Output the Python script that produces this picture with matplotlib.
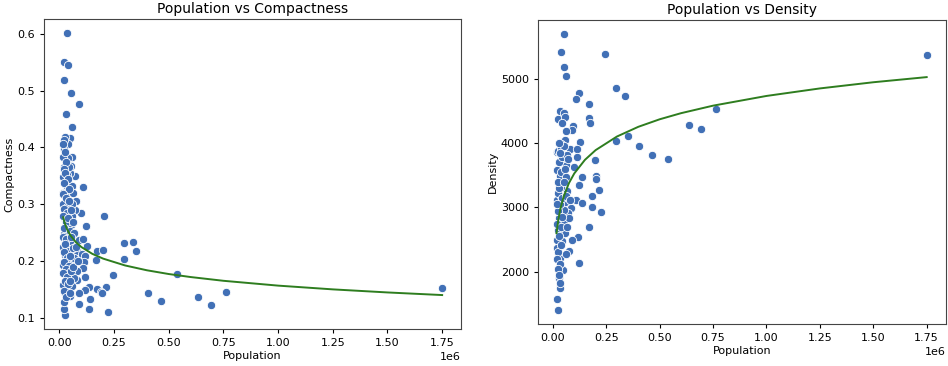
import numpy as np
import matplotlib
matplotlib.use('Agg')
import matplotlib.pyplot as plt

# population values are in millions, multiplied out below
pop_c = [0.035, 0.021, 0.040, 0.023, 0.053, 0.091, 0.029, 0.056, 0.047, 0.024,
         0.040, 0.020, 0.059, 0.037, 0.055, 0.020, 0.072, 0.049, 0.108, 0.030,
         0.059, 0.075, 0.017, 0.099, 0.204, 0.073, 0.120, 0.128, 0.091, 0.107,
         0.079, 0.170, 0.201, 0.295, 0.338, 0.352, 0.102, 0.119, 0.113, 0.169,
         0.297, 0.107, 0.081, 0.245, 0.539, 0.116, 0.078, 0.137, 0.172, 0.213,
         0.189, 0.195, 0.119, 0.091, 0.139, 0.088, 0.137, 0.224, 0.403, 0.463,
         0.635, 0.694, 0.762, 1.749, 0.049, 0.026, 0.021, 0.023, 0.027, 0.037,
         0.056, 0.017, 0.044, 0.065, 0.058, 0.016, 0.037, 0.068, 0.026, 0.041,
         0.016, 0.049, 0.021, 0.052, 0.024, 0.059, 0.033, 0.058, 0.035, 0.018,
         0.062, 0.017, 0.033, 0.043, 0.017, 0.021,
         0.018, 0.025, 0.032, 0.019, 0.027, 0.038, 0.022, 0.045, 0.016, 0.029,
         0.042, 0.020, 0.035, 0.052, 0.018, 0.028, 0.040, 0.063, 0.022, 0.046,
         0.068, 0.017, 0.032, 0.055, 0.024, 0.044, 0.060, 0.019, 0.033, 0.050,
         0.022, 0.043, 0.028, 0.018, 0.036, 0.052, 0.024, 0.040, 0.020, 0.031,
         0.050, 0.062, 0.075, 0.085, 0.047]
compactness = [0.601, 0.551, 0.545, 0.518, 0.495, 0.477, 0.459, 0.435, 0.417, 0.419,
               0.405, 0.397, 0.383, 0.381, 0.368, 0.366, 0.349, 0.354, 0.331, 0.333,
               0.332, 0.306, 0.300, 0.285, 0.280, 0.290, 0.262, 0.227, 0.237, 0.239,
               0.218, 0.217, 0.220, 0.231, 0.234, 0.218, 0.212, 0.209, 0.199, 0.201,
               0.204, 0.187, 0.183, 0.175, 0.177, 0.171, 0.167, 0.154, 0.151, 0.155,
               0.145, 0.144, 0.149, 0.143, 0.133, 0.125, 0.115, 0.111, 0.144, 0.130,
               0.136, 0.123, 0.145, 0.152, 0.138, 0.105, 0.116, 0.128, 0.143, 0.153,
               0.156, 0.157, 0.176, 0.170, 0.193, 0.193, 0.199, 0.206, 0.210, 0.225,
               0.225, 0.235, 0.248, 0.264, 0.273, 0.280, 0.295, 0.301, 0.320, 0.320,
               0.319, 0.348, 0.351, 0.366, 0.383, 0.413,
               0.405, 0.392, 0.375, 0.362, 0.355, 0.344, 0.338, 0.327, 0.318, 0.311,
               0.305, 0.292, 0.285, 0.290, 0.280, 0.268, 0.275, 0.268, 0.258, 0.252,
               0.250, 0.243, 0.238, 0.243, 0.230, 0.218, 0.222, 0.215, 0.205, 0.208,
               0.198, 0.192, 0.185, 0.178, 0.172, 0.182, 0.165, 0.160, 0.148, 0.137,
               0.165, 0.190, 0.225, 0.200, 0.144]

pop_d = [0.050, 0.036, 0.246, 0.050, 0.061, 1.752, 0.296, 0.339, 0.120, 0.107,
         0.171, 0.033, 0.022, 0.053, 0.059, 0.168, 0.173, 0.045, 0.763, 0.635,
         0.694, 0.095, 0.090, 0.062, 0.352, 0.297, 0.403, 0.462, 0.539, 0.129,
         0.058, 0.039, 0.020, 0.078, 0.112, 0.111, 0.198, 0.098, 0.061, 0.036,
         0.020, 0.033, 0.137, 0.201, 0.204, 0.120, 0.215, 0.185, 0.109, 0.137,
         0.181, 0.224, 0.087, 0.171, 0.118, 0.090, 0.121, 0.075, 0.047, 0.028,
         0.031, 0.020, 0.022, 0.033, 0.020, 0.044, 0.059, 0.022, 0.073, 0.051,
         0.020, 0.039, 0.067, 0.023, 0.039, 0.056, 0.028, 0.051, 0.075,
         0.018, 0.025, 0.032, 0.045, 0.060, 0.028, 0.022, 0.040, 0.055, 0.030,
         0.045, 0.068, 0.025, 0.040, 0.052, 0.030, 0.070, 0.018, 0.030, 0.040,
         0.026, 0.038, 0.019, 0.032, 0.022, 0.028, 0.035, 0.060, 0.065, 0.045,
         0.080, 0.035, 0.062, 0.050, 0.018]
density = [5705, 5420, 5383, 5187, 5047, 5373, 4855, 4741, 4777, 4689,
           4617, 4508, 4378, 4466, 4415, 4389, 4316, 4316, 4534, 4280,
           4218, 4264, 4202, 4187, 4114, 4041, 3964, 3824, 3756, 4021,
           4052, 3995, 3860, 3912, 3917, 3782, 3736, 3637, 3663, 3751,
           3585, 3497, 3477, 3487, 3446, 3352, 3275, 3176, 3109, 3062,
           3005, 2922, 2995, 2699, 2539, 2487, 2135, 2316, 2026, 1902,
           1741, 1580, 1404, 2207, 2373, 2472, 2601, 2642, 2912, 2964,
           3119, 3181, 3249, 3233, 3326, 3088, 2834, 2782, 2834,
           2750, 2950, 3050, 3150, 3180, 3300, 3400, 3550, 3600, 3700,
           3780, 3820, 3880, 3920, 3960, 4000, 3750, 2500, 2560, 2700,
           2300, 2420, 2200, 2120, 2050, 1950, 1820, 2280, 2700, 2850,
           3120, 3850, 3480, 3400, 3050]

# trend lines
fit_x = [0.017, 0.025, 0.035, 0.05, 0.075, 0.1, 0.15, 0.2, 0.3, 0.4,
         0.5, 0.6, 0.75, 1.0, 1.25, 1.5, 1.75]
fit_c = [0.2770, 0.2656, 0.2557, 0.2451, 0.2331, 0.2246, 0.2126, 0.2041, 0.1921, 0.1836,
         0.1770, 0.1717, 0.1651, 0.1566, 0.1500, 0.1446, 0.1400]
fit_d = [2600, 2802, 2978, 3165, 3378, 3529, 3741, 3892, 4104, 4255,
         4372, 4467, 4584, 4735, 4852, 4948, 5028]

dot_color = '#4170b6'
line_color = '#2e7d1f'

fig = plt.figure(figsize=(9.48, 3.66), dpi=100)
ax1 = fig.add_axes([0.0464, 0.101, 0.440, 0.847])
ax2 = fig.add_axes([0.5675, 0.115, 0.430, 0.831])

panels = [
    (ax1, pop_c, compactness, fit_c, 'Compactness', 'Population vs Compactness'),
    (ax2, pop_d, density, fit_d, 'Density', 'Population vs Density'),
]
for ax, px, py, fy, ylab, title in panels:
    ax.scatter(np.array(px) * 1e6, py, s=36, color=dot_color,
               edgecolor='white', linewidth=0.6, zorder=2)
    ax.plot(np.array(fit_x) * 1e6, fy, color=line_color, lw=1.4, zorder=3)
    ax.set_title(title, fontsize=10, pad=4)
    ax.set_xlabel('Population', fontsize=8, labelpad=2)
    ax.set_ylabel(ylab, fontsize=8, labelpad=2)
    ax.tick_params(labelsize=8, length=3)
    ax.xaxis.get_offset_text().set_fontsize(8)
    for sp in ax.spines.values():
        sp.set_color('#444444')

ax1.set_xticks([0, 0.25e6, 0.5e6, 0.75e6, 1.0e6, 1.25e6, 1.5e6, 1.75e6])
ax2.set_xticks([0, 0.25e6, 0.5e6, 0.75e6, 1.0e6, 1.25e6, 1.5e6, 1.75e6])
ax2.set_yticks([2000, 3000, 4000, 5000])

plt.savefig('out.png', dpi=100)
